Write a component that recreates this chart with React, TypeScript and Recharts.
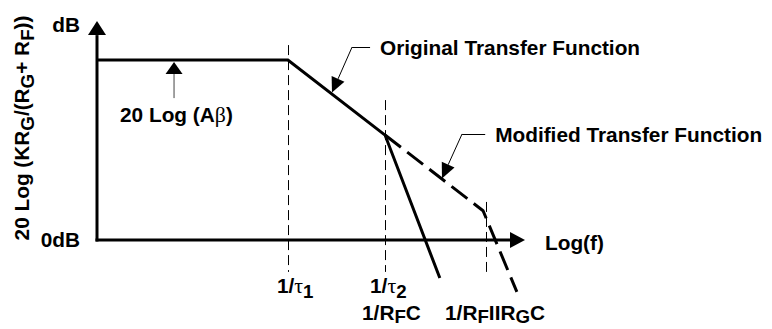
import React from "react";
import { ComposedChart, Line, XAxis, YAxis, ReferenceLine } from "recharts";

// log(f) axis runs 0-100 (arbitrary units), gain axis -25..100 (arbitrary dB)
const originalX = [0, 44.6, 67.3, 80.1];
const originalY = [81.8, 81.8, 47.7, -17.3];
const modifiedX = [67.3, 90.2, 98.1];
const modifiedY = [47.7, 13.3, -23.6];

// break frequencies: dashed guides and their labels (odd parts are subscripts)
const guideX = [44.6, 67.3, 90.9];
const guideTop = [88.6, 63.6, 17.3];
const guideBottom = -14.5;
const guideLabels: (string[] | null)[][] = [
  [["1/τ", "1"], null],
  [["1/τ", "2"], ["1/R", "F", "C"]],
  [null, ["1/R", "F", "IIR", "G", "C"]],
];
const labelDx = [
  [-11, 0],
  [-15, -23],
  [0, -41],
];

const yAxisLabel = ["20 Log (KR", "G", "/(R", "G", "+ R", "F", "))"];
const topLabel = "dB";
const zeroLabel = "0dB";
const xAxisLabel = "Log(f)";
const gainLabel = ["20 Log (Aβ)"];
const originalLabel = "Original Transfer Function";
const modifiedLabel = "Modified Transfer Function";

const original = originalX.map((x, i) => ({ x, y: originalY[i] }));
const modified = modifiedX.map((x, i) => ({ x, y: modifiedY[i] }));

const FONT = "'Liberation Sans', Arial, Helvetica, sans-serif";
const SERIF = "'Liberation Serif', 'Times New Roman', serif";
const SIZE = 20.8;
const GREEK = /([τβ])/;

// text with alternating normal / subscript parts, greek letters in serif
function rich(parts: string[], size: number, drop = 5) {
  const out: React.ReactNode[] = [];
  let shift = 0;
  parts.forEach((p, i) => {
    const sub = i % 2 === 1;
    const target = sub ? drop : 0;
    let dy = target - shift;
    shift = target;
    p.split(GREEK)
      .filter((s) => s.length > 0)
      .forEach((seg, j) => {
        const greek = GREEK.test(seg);
        out.push(
          <tspan
            key={i + "-" + j}
            dy={dy}
            fontFamily={greek ? SERIF : undefined}
            fontWeight={greek ? "normal" : undefined}
            fontSize={sub ? size * 0.9 : greek ? size * 1.05 : size}
          >
            {seg}
          </tspan>
        );
        dy = 0;
      });
  });
  return out;
}

function headPoints(x1: number, y1: number, x2: number, y2: number, len: number, half: number) {
  const a = Math.atan2(y2 - y1, x2 - x1);
  const bx = x2 - len * Math.cos(a);
  const by = y2 - len * Math.sin(a);
  const px = -Math.sin(a) * half;
  const py = Math.cos(a) * half;
  return {
    bx,
    by,
    pts: `${x2},${y2} ${bx + px},${by + py} ${bx - px},${by - py}`,
  };
}

const txt = { fontFamily: FONT, fontWeight: "bold" as const, fontSize: SIZE, fill: "#000" };

const YAxisShape = (p: any) => {
  const h = headPoints(p.x1, p.y1, p.x2, p.y2, 14, 9);
  return (
    <g>
      <line x1={p.x1} y1={p.y1 + 1.5} x2={h.bx} y2={h.by} stroke="#000" strokeWidth={3} />
      <polygon points={h.pts} fill="#000" />
      <text {...txt} x={p.x2 - 17} y={p.y2 + 11} textAnchor="end">{topLabel}</text>
      <text {...txt} x={p.x1 - 17} y={p.y1 + 7} textAnchor="end">{zeroLabel}</text>
      <text
        {...txt}
        x={p.x1 - 68}
        y={p.y1 - 112}
        textAnchor="middle"
        transform={`rotate(-90 ${p.x1 - 68} ${p.y1 - 112})`}
      >
        {rich(yAxisLabel, SIZE)}
      </text>
    </g>
  );
};

const XAxisShape = (p: any) => {
  const h = headPoints(p.x1, p.y1, p.x2, p.y2, 15, 8);
  return (
    <g>
      <line x1={p.x1 - 1.5} y1={p.y1} x2={h.bx} y2={h.by} stroke="#000" strokeWidth={3} />
      <polygon points={h.pts} fill="#000" />
      <text {...txt} x={p.x2 + 20} y={p.y2 + 10}>{xAxisLabel}</text>
    </g>
  );
};

const guideShape = (idx: number) => (p: any) => {
  const bottom = Math.max(p.y1, p.y2);
  const rows = guideLabels[idx];
  const gx = Math.round(p.x1) + 0.5;
  return (
    <g>
      <line x1={gx} y1={p.y1} x2={gx} y2={p.y2} stroke="#000" strokeWidth={1} strokeDasharray="10 5" />
      {rows.map((r, k) =>
        r ? (
          <text key={k} {...txt} x={p.x1 + labelDx[idx][k]} y={bottom + (k === 0 ? 21 : 48)}>
            {rich(r, SIZE, k === 0 ? 5 : 3.5)}
          </text>
        ) : null
      )}
    </g>
  );
};

const leaderText = (label: string) => (p: any) => (
  <g>
    <line x1={p.x1} y1={Math.round(p.y1) + 0.5} x2={p.x2} y2={Math.round(p.y2) + 0.5} stroke="#000" strokeWidth={1} />
    <text {...txt} x={p.x1 + 10} y={p.y1 + 8}>{label}</text>
  </g>
);

const arrowShape = (len: number, half: number, color: string, label?: string[]) => (p: any) => {
  const h = headPoints(p.x1, p.y1, p.x2, p.y2, len, half);
  return (
    <g>
      <line x1={p.x1} y1={p.y1} x2={h.bx} y2={h.by} stroke={color} strokeWidth={1} />
      <polygon points={h.pts} fill="#000" />
      {label ? (
        <text {...txt} x={p.x1 - 54} y={p.y1 + 24}>{rich(label, SIZE)}</text>
      ) : null}
    </g>
  );
};

export default function App() {
  return (
    <ComposedChart width={764} height={321} margin={{ top: 12, right: 247, bottom: 34, left: 89 }}>
      <XAxis type="number" dataKey="x" domain={[0, 100]} hide />
      <YAxis type="number" domain={[-25, 100]} tickCount={6} hide />

      {guideX.map((x, i) => (
        <ReferenceLine
          key={"g" + i}
          segment={[{ x, y: guideTop[i] }, { x, y: guideBottom }]}
          shape={guideShape(i)}
        />
      ))}

      <ReferenceLine segment={[{ x: 0, y: 0 }, { x: 0, y: 99.5 }]} shape={YAxisShape} />
      <ReferenceLine segment={[{ x: 0, y: 0 }, { x: 100, y: 0 }]} shape={XAxisShape} />

      <Line
        data={original}
        dataKey="y"
        type="linear"
        stroke="#000"
        strokeWidth={3}
        dot={false}
        isAnimationActive={false}
      />
      <Line
        data={modified}
        dataKey="y"
        type="linear"
        stroke="#000"
        strokeWidth={3}
        strokeDasharray="20 8"
        dot={false}
        isAnimationActive={false}
      />

      <ReferenceLine segment={[{ x: 18, y: 64.5 }, { x: 18, y: 80.9 }]} shape={arrowShape(12, 8.5, "#444", gainLabel)} />

      <ReferenceLine segment={[{ x: 63.8, y: 87.7 }, { x: 59.6, y: 87.7 }]} shape={leaderText(originalLabel)} />
      <ReferenceLine segment={[{ x: 59.6, y: 87.7 }, { x: 54.9, y: 67.0 }]} shape={arrowShape(15, 7, "#000")} />

      <ReferenceLine segment={[{ x: 90.7, y: 48.2 }, { x: 85.3, y: 48.2 }]} shape={leaderText(modifiedLabel)} />
      <ReferenceLine segment={[{ x: 85.3, y: 48.2 }, { x: 80.6, y: 28.0 }]} shape={arrowShape(15, 7, "#000")} />
    </ComposedChart>
  );
}
